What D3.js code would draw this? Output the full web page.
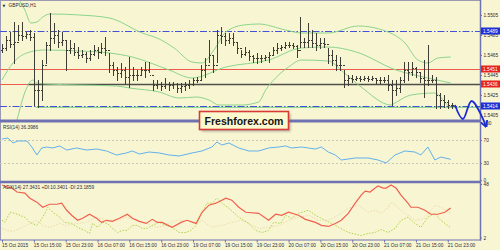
<!DOCTYPE html>
<html><head><meta charset="utf-8">
<script src="https://cdn.jsdelivr.net/npm/d3@7"></script>
<style>html,body{margin:0;padding:0;background:#f8f6d2;}svg{display:block}</style>
</head><body><svg id="c" width="500" height="250"></svg>
<script>
// ---------- DATA ----------
const symbol = "GBPUSD,H1";
const highs = [1.5476,1.5484,1.5488,1.5498,1.5495,1.5498,1.5488,1.5490,1.5487,1.5440,
1.5460,1.5478,1.5507,1.5497,1.5490,1.5488,1.5480,1.5480,1.5477,1.5473,
1.5470,1.5468,1.5470,1.5475,1.5473,1.5477,1.5483,1.5467,1.5458,1.5453,
1.5457,1.5453,1.5463,1.5453,1.5450,1.5453,1.5458,1.5458,1.5440,1.5440,
1.5438,1.5442,1.5438,1.5438,1.5437,1.5437,1.5438,1.5440,1.5442,1.5443,
1.5455,1.5462,1.5480,1.5465,1.5490,1.5493,1.5487,1.5487,1.5487,1.5477,
1.5470,1.5473,1.5470,1.5465,1.5467,1.5465,1.5465,1.5468,1.5473,1.5477,
1.5475,1.5478,1.5478,1.5477,1.5475,1.5503,1.5482,1.5497,1.5490,1.5487,
1.5482,1.5482,1.5472,1.5470,1.5465,1.5463,1.5450,1.5445,1.5445,1.5444,
1.5444,1.5444,1.5444,1.5444,1.5442,1.5443,1.5443,1.5445,1.5440,1.5440,
1.5443,1.5458,1.5458,1.5458,1.5453,1.5447,1.5460,1.5475,1.5445,1.5443,
1.5427,1.5425,1.5420,1.5417];
const lows = [1.5468,1.5470,1.5473,1.5457,1.5480,1.5480,1.5482,1.5480,1.5415,1.5413,
1.5420,1.5457,1.5470,1.5477,1.5473,1.5475,1.5450,1.5467,1.5465,1.5462,
1.5463,1.5458,1.5460,1.5465,1.5462,1.5467,1.5465,1.5448,1.5445,1.5440,
1.5443,1.5437,1.5433,1.5440,1.5440,1.5445,1.5443,1.5448,1.5430,1.5432,
1.5430,1.5432,1.5430,1.5432,1.5428,1.5428,1.5430,1.5432,1.5435,1.5438,
1.5440,1.5443,1.5458,1.5448,1.5458,1.5477,1.5475,1.5477,1.5475,1.5467,
1.5463,1.5465,1.5460,1.5458,1.5457,1.5458,1.5460,1.5458,1.5465,1.5467,
1.5470,1.5472,1.5473,1.5472,1.5463,1.5473,1.5473,1.5473,1.5473,1.5470,
1.5472,1.5473,1.5457,1.5455,1.5450,1.5450,1.5433,1.5435,1.5438,1.5440,
1.5439,1.5440,1.5439,1.5440,1.5437,1.5437,1.5438,1.5430,1.5415,1.5425,
1.5428,1.5438,1.5440,1.5445,1.5443,1.5438,1.5423,1.5435,1.5438,1.5412,
1.5412,1.5413,1.5412,1.5412];
const closes = [1.5472,1.5480,1.5476,1.5478,1.5485,1.5484,1.5486,1.5483,1.5430,1.5430,
1.5455,1.5475,1.5482,1.5485,1.5478,1.5480,1.5470,1.5472,1.5468,1.5465,
1.5466,1.5462,1.5466,1.5470,1.5468,1.5472,1.5470,1.5455,1.5450,1.5447,
1.5450,1.5443,1.5445,1.5445,1.5445,1.5450,1.5450,1.5445,1.5435,1.5436,
1.5434,1.5436,1.5435,1.5436,1.5432,1.5434,1.5435,1.5436,1.5440,1.5440,
1.5450,1.5455,1.5465,1.5455,1.5485,1.5484,1.5480,1.5482,1.5478,1.5472,
1.5466,1.5468,1.5464,1.5462,1.5462,1.5462,1.5463,1.5465,1.5470,1.5472,
1.5473,1.5475,1.5475,1.5474,1.5470,1.5478,1.5478,1.5480,1.5477,1.5475,
1.5477,1.5476,1.5465,1.5460,1.5455,1.5455,1.5440,1.5442,1.5441,1.5442,
1.5441,1.5442,1.5441,1.5442,1.5440,1.5440,1.5440,1.5435,1.5430,1.5432,
1.5440,1.5450,1.5448,1.5452,1.5448,1.5442,1.5440,1.5440,1.5440,1.5425,
1.5420,1.5418,1.5415,1.5415];
const firstOpen = 1.5470;

// Bollinger bands: [bar, price] read points
const bbUpper = [[1.5,1.5540],[4,1.5522],[5.75,1.5510],[7.25,1.5497],[8.75,1.5498],[10.25,1.5503],[12,1.5506],[19.5,1.5505],[27,1.5502],[35.25,1.5487],[39.5,1.5481],[43.25,1.5472],[47.75,1.5458],[50.25,1.5457],[53.25,1.5470],[56.25,1.5488],[60.75,1.5495],[64.5,1.5496],[71.25,1.5490],[75.25,1.5487],[82,1.5487],[89.5,1.5494],[97,1.5488],[101.25,1.5477],[104.5,1.5460],[107,1.5457],[109.5,1.5462],[112.75,1.5463]];
const bbMiddle = [[0,1.5440],[2.75,1.5457],[7,1.5468],[10.75,1.5470],[19.5,1.5469],[27,1.5467],[32.75,1.5463],[42,1.5450],[47.75,1.5442],[56.25,1.5453],[67,1.5460],[75.25,1.5472],[82,1.5473],[89,1.5468],[99,1.5450],[107,1.5442],[112.75,1.5437]];
const bbLower = [[2,1.5380],[3.75,1.5400],[5.5,1.5425],[7.75,1.5440],[8.75,1.5437],[11.25,1.5436],[19.5,1.5435],[28.75,1.5434],[32,1.5432],[39.5,1.5428],[44.5,1.5422],[48.75,1.5423],[52,1.5420],[54.5,1.5415],[60.25,1.5415],[64.5,1.5418],[66.25,1.5430],[68.75,1.5442],[72,1.5453],[75.25,1.5460],[82,1.5459],[85.75,1.5448],[90.25,1.5433],[97.75,1.5415],[98.75,1.5417],[102.75,1.5425],[108.75,1.5427],[112,1.5415],[112.75,1.5413]];

// horizontal levels drawn on chart
const levels = [1.5489, 1.5451, 1.5436, 1.5414];
const priceTicks = [1.5505,1.5485,1.5465,1.5445,1.5425,1.5405];

// forecast sketch [bar, price]
const forecast = [[113.8,1.5415],[115.8,1.5401],[118,1.5419],[121.6,1.5394]];

// RSI(14) [bar, value]
const rsiLabel = "RSI(14) 36.3986";
const rsi = [[0,71.7],[1.5,73.5],[2.75,64.8],[4,68.3],[6.25,68.3],[7.5,57.8],[8.75,43.9],[10,56.1],[11.25,57.8],[12.75,56.1],[14.5,59.6],[16.25,52.6],[18.75,56.1],[21.25,52.6],[23.75,54.3],[26.25,50.9],[28.75,43.9],[31.25,47.4],[32.75,50.9],[34.5,45.7],[37,49.1],[39.5,47.4],[42,43.9],[44.5,42.2],[47.75,47.4],[50.25,50.9],[52.75,57.8],[54,66.5],[55.25,61.3],[57,64.8],[59.5,56.1],[62,50.9],[64.5,50.9],[67,56.1],[69.5,57.8],[71.25,59.6],[72.75,56.1],[75.25,57.8],[77,56.1],[78.75,54.3],[80.25,57.8],[82,49.1],[83.75,43.9],[85.25,35.2],[88.75,38.7],[92,38.7],[94.5,35.2],[96.5,30.0],[98.75,43.9],[101.25,50.9],[103.75,49.1],[105.25,43.9],[107,57.8],[108.75,35.2],[110.25,40.4],[112.75,36.4]];
const rsiTicks = [100,70,30,0];
const rsiLevels = [70,30];

// ADX(14) with +DI / -DI [bar, value]
const adxLabel = "ADX(14) 27.3431 +DI:10.3401 -DI:23.1859";
const adx = [[0,47.1],[1.25,45.4],[2.5,44.5],[3.75,41.1],[5.75,40.2],[7,35.8],[8.75,32.4],[10.25,28.0],[12,30.6],[13.75,30.6],[15,31.5],[16.25,25.4],[17.5,21.1],[19,16.8],[20.25,18.5],[22,22.0],[23.75,18.5],[25,15.0],[26.25,16.8],[27.75,15.9],[29.5,18.5],[31.5,22.0],[32.75,18.5],[34.5,15.9],[36.25,14.1],[37.75,17.6],[39,15.0],[40.25,15.0],[42.75,10.7],[45,15.0],[46.5,16.8],[48.75,14.1],[50.25,23.7],[52,29.8],[53.75,31.5],[56.25,35.8],[57.75,34.1],[59.5,28.0],[61.25,23.7],[64.5,22.8],[67,16.8],[68.75,22.0],[70.25,21.1],[72,23.7],[74.5,21.1],[76.25,17.6],[78.75,15.0],[80.25,12.4],[82,11.5],[83.75,14.1],[85.25,16.8],[87,22.8],[88.75,31.5],[90.25,38.5],[91.25,41.9],[92.5,41.1],[93.75,44.5],[94.5,46.3],[95.75,44.5],[96.5,44.5],[97.75,47.1],[99,44.5],[100.25,38.5],[102,31.5],[102.75,28.0],[104.5,28.0],[106.25,25.4],[107.75,22.0],[109.5,22.0],[111.25,23.7],[112.75,27.3]];
const plusDI = [[0,16.8],[0.75,15.0],[2,23.7],[3.25,22.8],[4.5,21.1],[5.75,19.4],[7,15.0],[8.75,12.4],[10.25,19.4],[11.5,28.0],[12.75,23.7],[14.5,19.4],[15.75,15.0],[17.5,14.1],[19,10.7],[20.75,8.1],[22,5.5],[22.75,14.1],[24,10.7],[25.25,15.0],[26.5,14.1],[27.75,9.8],[29,6.3],[30.25,8.1],[31.5,8.1],[32.75,12.4],[34,12.4],[35.25,9.8],[36.5,9.8],[37.75,12.4],[39.5,15.0],[41.25,12.4],[42.75,10.7],[44.5,6.3],[46.25,6.3],[47.5,8.1],[48.75,12.4],[50.25,22.8],[51.5,31.5],[52.75,31.5],[54,35.8],[55.25,31.5],[57,27.2],[59.5,19.4],[62,14.1],[63.75,8.1],[65.25,6.3],[67,8.1],[68.25,15.0],[70,14.1],[71.25,21.1],[72.75,18.5],[74.5,22.8],[77,25.4],[78.75,21.1],[81.25,16.8],[83.75,12.4],[87,6.3],[90.25,3.7],[92,5.5],[93.75,6.3],[95.25,8.9],[97,6.3],[98.75,9.8],[100.25,16.8],[102,19.4],[103.75,14.1],[105.25,10.7],[107,19.4],[108.75,22.8],[110.25,16.8],[112.75,10.3]];
const minusDI = [[0,9.8],[1.25,8.1],[2.75,7.2],[4.5,9.8],[7,14.1],[8.75,16.8],[10.25,12.4],[12,10.7],[14.5,14.1],[16.25,12.4],[18.75,14.1],[21.25,15.0],[23.75,19.4],[26.25,16.8],[28.75,16.8],[31.25,19.4],[33.75,16.8],[36.25,14.1],[38.75,10.7],[41.25,12.4],[43.75,16.8],[46.25,16.8],[48.75,14.1],[50.25,16.8],[52.75,10.7],[55.25,12.4],[57.75,15.0],[60.25,16.8],[62,14.1],[64.5,9.8],[67,10.7],[69.5,12.4],[72,16.8],[74.5,19.4],[77,21.1],[79.5,16.8],[82,16.8],[84.5,21.1],[87,27.2],[89.5,29.8],[92,23.7],[93.75,25.4],[95.25,22.8],[97,28.0],[97.75,32.4],[99.5,28.0],[101.25,22.8],[103.75,16.8],[106.25,18.5],[108.75,29.8],[110.25,28.0],[112.75,23.2]];
const adxTicks = [48,2];

// time axis
const timeLabels = ["15 Oct 2015","15 Oct 15:00","15 Oct 23:00","16 Oct 07:00","16 Oct 15:00","16 Oct 23:00","19 Oct 07:00","19 Oct 15:00","19 Oct 23:00","20 Oct 07:00","20 Oct 15:00","20 Oct 23:00","21 Oct 07:00","21 Oct 15:00","21 Oct 23:00"];
const timeTickBars = [0,8,16,24,32,40,48,56,64,72,80,88,96,104,112];
const watermark = "Freshforex.com";

// ---------- DRAW ----------
const W = 500, H = 250, AX = 480;
const svg = d3.select("#c");
const FONT = "'Liberation Sans', Arial, sans-serif";
const TXT = "#2b2b3a";
const AXC = "#6e71b2";

const x = d3.scaleLinear().domain([0, 119.6]).range([2, 478]);
const yP = d3.scaleLinear().domain([1.5505, 1.5405]).range([15, 115]);
const yR = d3.scaleLinear().domain([0, 100]).range([180.25, 122.75]);
const yA = d3.scaleLinear().domain([2, 48]).range([237.5, 184]);

svg.append("rect").attr("width", W).attr("height", H).attr("fill", "#f8f6d2");

const defs = svg.append("defs");
defs.append("clipPath").attr("id", "cm").append("rect").attr("x", 0).attr("y", 0).attr("width", AX).attr("height", 120);
defs.append("clipPath").attr("id", "cr").append("rect").attr("x", 0).attr("y", 123).attr("width", AX).attr("height", 57);
defs.append("clipPath").attr("id", "ca").append("rect").attr("x", 0).attr("y", 183).attr("width", AX).attr("height", 56);
const blur = defs.append("filter").attr("id", "blur").attr("x", "-10%").attr("y", "-50%").attr("width", "120%").attr("height", "200%");
blur.append("feGaussianBlur").attr("stdDeviation", 1.2);
defs.append("marker").attr("id", "arrow").attr("viewBox", "0 0 10 10").attr("refX", 8).attr("refY", 5)
  .attr("markerWidth", 4).attr("markerHeight", 4).attr("orient", "auto")
  .append("path").attr("d", "M0,0 L10,5 L0,10").attr("fill", "none").attr("stroke", "#1d2ed6").attr("stroke-width", 2.5);

// frame
svg.append("line").attr("x1", 0.5).attr("x2", 0.5).attr("y1", 0).attr("y2", 240).attr("stroke", "#9a9ab0");
svg.append("line").attr("x1", 0).attr("x2", AX).attr("y1", 0.5).attr("y2", 0.5).attr("stroke", "#9a9ab0");

// ---- main panel ----
const gm = svg.append("g").attr("clip-path", "url(#cm)");
const lineP = d3.line().x(d => x(d[0])).y(d => yP(d[1])).curve(d3.curveMonotoneX);

// levels
const lvY = levels.map(v => Math.round(yP(v)) + 0.5);
gm.append("line").attr("x1", 0).attr("x2", AX).attr("y1", lvY[0]).attr("y2", lvY[0])
  .attr("stroke", "#4252d8").attr("stroke-dasharray", "7,2,1.5,2");
gm.append("line").attr("x1", 0).attr("x2", AX).attr("y1", lvY[1]).attr("y2", lvY[1]).attr("stroke", "#ee5a4c");
gm.append("line").attr("x1", 0).attr("x2", AX).attr("y1", lvY[2]).attr("y2", lvY[2]).attr("stroke", "#ee5a4c");
gm.append("line").attr("x1", x(6.5)).attr("x2", AX).attr("y1", lvY[2] + 1.5).attr("y2", lvY[2] + 1.5)
  .attr("stroke", "#777").attr("stroke-width", 2).attr("opacity", 0.7).attr("filter", "url(#blur)");
gm.append("line").attr("x1", x(6.5)).attr("x2", AX).attr("y1", lvY[2]).attr("y2", lvY[2])
  .attr("stroke", "#4e4e4a").attr("stroke-width", 1.4);
gm.append("line").attr("x1", x(8.5)).attr("x2", AX).attr("y1", lvY[3] + 0.8).attr("y2", lvY[3] + 0.8)
  .attr("stroke", "#8fd68f").attr("stroke-width", 1.2);
gm.append("line").attr("x1", 0).attr("x2", AX).attr("y1", lvY[3]).attr("y2", lvY[3])
  .attr("stroke", "#4252d8").attr("stroke-dasharray", "7,2,1.5,2");

// bands
[bbUpper, bbMiddle, bbLower].forEach(b => {
  gm.append("path").attr("d", lineP(b)).attr("fill", "none").attr("stroke", "#8cd48c").attr("stroke-width", 1);
});

// bars
const bars = gm.append("g").attr("stroke", "#3d3d33").attr("stroke-width", 1).attr("shape-rendering", "crispEdges");
highs.forEach((h, i) => {
  const cx = Math.round(x(i)) + 0.5;
  const open = i === 0 ? firstOpen : closes[i - 1];
  bars.append("line").attr("x1", cx).attr("x2", cx).attr("y1", yP(h)).attr("y2", yP(lows[i]) + 1);
  bars.append("line").attr("x1", cx - 1.5).attr("x2", cx).attr("y1", Math.round(yP(open)) + 0.5).attr("y2", Math.round(yP(open)) + 0.5);
  bars.append("line").attr("x1", cx).attr("x2", cx + 1.5).attr("y1", Math.round(yP(closes[i])) + 0.5).attr("y2", Math.round(yP(closes[i])) + 0.5);
});

// symbol label
svg.append("text").attr("x", 2.5).attr("y", 7).attr("font-family", "'DejaVu Sans', sans-serif").attr("font-size", 3.6).attr("fill", TXT).text("▼");
svg.append("text").attr("x", 8.5).attr("y", 7).attr("font-family", FONT).attr("font-size", 4.8).attr("fill", TXT).text(symbol);

// ---- RSI panel ----
const gr = svg.append("g").attr("clip-path", "url(#cr)");
rsiLevels.forEach(v => {
  gr.append("line").attr("x1", 0).attr("x2", AX).attr("y1", Math.round(yR(v)) + 0.5).attr("y2", Math.round(yR(v)) + 0.5)
    .attr("stroke", "#c9c8b8").attr("stroke-dasharray", "2,2");
});
gr.append("path").attr("d", d3.line().x(d => x(d[0])).y(d => yR(d[1]))(rsi))
  .attr("fill", "none").attr("stroke", "#62b0ee").attr("stroke-width", 1);
svg.append("text").attr("x", 3).attr("y", 129).attr("font-family", FONT).attr("font-size", 4.8).attr("fill", TXT).text(rsiLabel);

// ---- ADX panel ----
const ga = svg.append("g").attr("clip-path", "url(#ca)");
const lineA = d3.line().x(d => x(d[0])).y(d => yA(d[1]));
ga.append("path").attr("d", lineA(minusDI)).attr("fill", "none").attr("stroke", "#efd9b0").attr("stroke-width", 1).attr("stroke-dasharray", "1.5,1.5");
ga.append("path").attr("d", lineA(plusDI)).attr("fill", "none").attr("stroke", "#b0d24a").attr("stroke-width", 1).attr("stroke-dasharray", "1.5,1.5");
ga.append("path").attr("d", lineA(adx)).attr("fill", "none").attr("stroke", "#f0604e").attr("stroke-width", 1.2);
svg.append("text").attr("x", 3).attr("y", 189).attr("font-family", FONT).attr("font-size", 4.8).attr("fill", TXT).text(adxLabel);

// ---- separators & axes ----
svg.append("line").attr("x1", 0).attr("x2", AX).attr("y1", 121).attr("y2", 121).attr("stroke", AXC).attr("stroke-width", 3);
svg.append("line").attr("x1", 0).attr("x2", AX).attr("y1", 182).attr("y2", 182).attr("stroke", AXC).attr("stroke-width", 2.4);

function styleAxis(g) {
  g.select(".domain").remove();
  g.selectAll("line").attr("stroke", AXC);
  g.selectAll("text").attr("font-family", FONT).attr("font-size", 4.8).attr("fill", TXT);
}
svg.append("g").attr("transform", `translate(${AX},0)`)
  .call(d3.axisRight(yP).tickValues(priceTicks).tickFormat(d3.format(".4f")).tickSize(2).tickPadding(1.5))
  .call(styleAxis);
svg.append("g").attr("transform", `translate(${AX},0)`)
  .call(d3.axisRight(yR).tickValues(rsiTicks).tickFormat(d3.format("d")).tickSize(2).tickPadding(1.5))
  .call(styleAxis);
svg.append("g").attr("transform", `translate(${AX},0)`)
  .call(d3.axisRight(yA).tickValues(adxTicks).tickFormat(d3.format("d")).tickSize(2).tickPadding(1.5))
  .call(styleAxis);
const xa = svg.append("g").attr("transform", "translate(0,240)")
  .call(d3.axisBottom(x).tickValues(timeTickBars).tickFormat((d, i) => timeLabels[i]).tickSize(2.5).tickPadding(1.5))
  .call(styleAxis);
xa.selectAll("text").attr("text-anchor", "start").attr("dx", -0.5);

svg.append("line").attr("x1", AX + 0.5).attr("x2", AX + 0.5).attr("y1", 0).attr("y2", 240.5).attr("stroke", AXC).attr("stroke-width", 1.5);
svg.append("line").attr("x1", 0).attr("x2", AX + 1).attr("y1", 240).attr("y2", 240).attr("stroke", AXC).attr("stroke-width", 1.2);

// level price boxes on axis
const boxColors = ["#1f30d8", "#e8221c", "#e8221c", "#1f30d8"];
levels.forEach((v, k) => {
  const yy = yP(v);
  svg.append("rect").attr("x", AX + 1).attr("y", yy - 3.5).attr("width", 19).attr("height", 7).attr("fill", boxColors[k]);
  svg.append("text").attr("x", AX + 3).attr("y", yy + 1.8).attr("font-family", FONT).attr("font-size", 4.8)
    .attr("fill", "#ffffff").text(d3.format(".4f")(v));
});

// ---- watermark box ----
const bx = 199.5, by = 111.5, bw = 89, bh = 18;
svg.append("rect").attr("x", bx + 2).attr("y", by + 2).attr("width", bw).attr("height", bh)
  .attr("fill", "#777").attr("opacity", 0.55).attr("filter", "url(#blur)");
svg.append("rect").attr("x", bx).attr("y", by).attr("width", bw).attr("height", bh)
  .attr("fill", "#fcf9cf").attr("stroke", "#d83a36").attr("stroke-width", 1.6);
svg.append("text").attr("x", bx + bw / 2).attr("y", by + 13).attr("text-anchor", "middle")
  .attr("font-family", FONT).attr("font-weight", "bold").attr("font-size", 10.5).attr("fill", "#141414").text(watermark);

// ---- forecast sketch ----
svg.append("path").attr("d", d3.line().x(d => x(d[0])).y(d => yP(d[1])).curve(d3.curveCatmullRom.alpha(0.5))(forecast))
  .attr("fill", "none").attr("stroke", "#1d2ed6").attr("stroke-width", 1.8).attr("marker-end", "url(#arrow)");
</script>
</body></html>
